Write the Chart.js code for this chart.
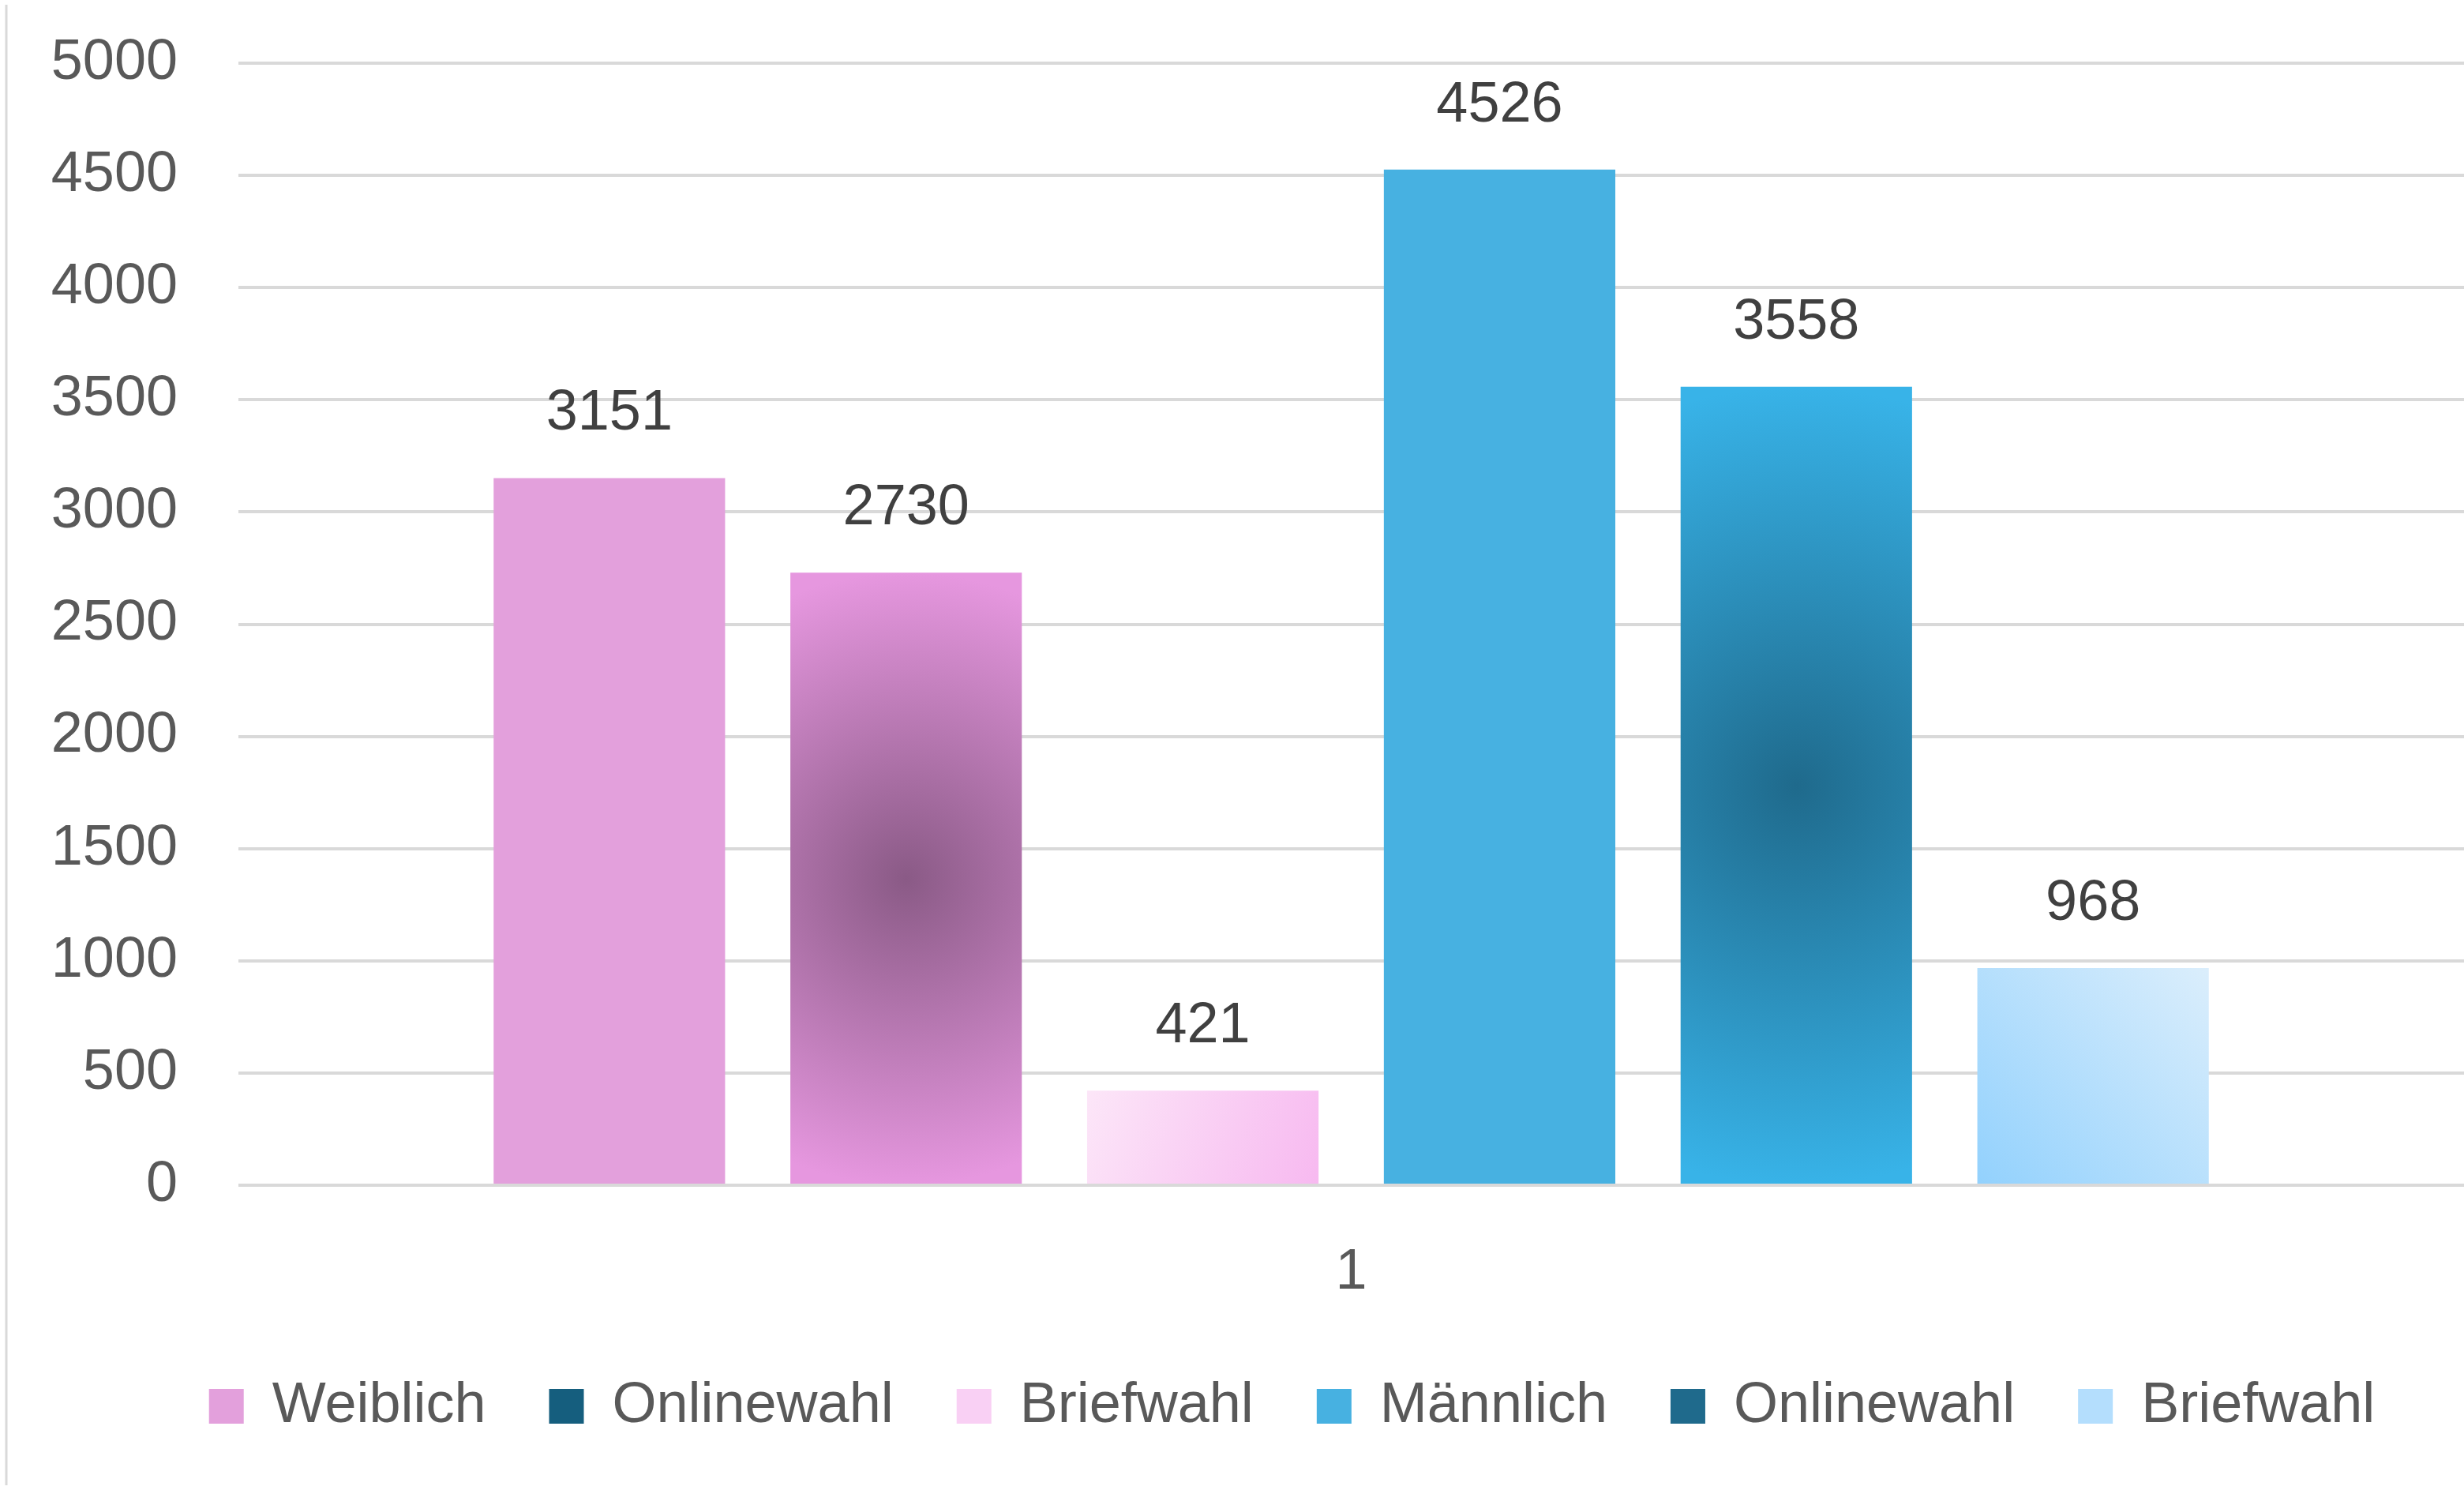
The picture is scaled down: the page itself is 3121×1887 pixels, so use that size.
<!DOCTYPE html>
<html>
<head>
<meta charset="utf-8">
<script src="https://cdn.jsdelivr.net/npm/chart.js@4/dist/chart.umd.min.js"></script>
<style>
  html, body { margin: 0; padding: 0; background: #ffffff; }
  canvas { display: block; }
</style>
</head>
<body>
<canvas id="chart" width="3121" height="1887"></canvas>
<script>
// data
const categories = ["1"];
const seriesNames = ["Weiblich", "Onlinewahl", "Briefwahl", "Männlich", "Onlinewahl", "Briefwahl"];
const seriesValues = [3151, 2730, 421, 4526, 3558, 968];
const yMin = 0;
const yMax = 5000;
const yStep = 500;

const catPct = 0.8;
const barPct = 0.78;
const textColor = "#595959";
const labelColor = "#404040";
const gridColor = "#d9d9d9";
const font = "'Liberation Sans', Arial, sans-serif";

// where a bar sits, worked out from the scales the same way the bar controller does
function barRect(c) {
  const chart = c.chart;
  const xs = chart.scales.x, ys = chart.scales.y;
  const n = chart.data.datasets.length;
  const slot = xs.width / chart.data.labels.length * catPct / n;
  const cx = xs.getPixelForValue(c.dataIndex) + (c.datasetIndex - (n - 1) / 2) * slot;
  const w = slot * barPct;
  return { x0: cx - w / 2, x1: cx + w / 2, y0: ys.getPixelForValue(c.raw), y1: ys.getPixelForValue(0) };
}

function radial(inner, outer) {
  return c => {
    if (c.type !== "data" || !c.chart.chartArea) return outer;
    const r = barRect(c);
    const cx = (r.x0 + r.x1) / 2, cy = (r.y0 + r.y1) / 2;
    const g = c.chart.ctx.createRadialGradient(cx, cy, 0, cx, cy, (r.y1 - r.y0) / 2);
    g.addColorStop(0, inner);
    g.addColorStop(1, outer);
    return g;
  };
}

function linear(dir, from, to) {
  return c => {
    if (c.type !== "data" || !c.chart.chartArea) return to;
    const r = barRect(c);
    const g = dir === "down"
      ? c.chart.ctx.createLinearGradient(r.x0, r.y0, r.x1, r.y1)
      : c.chart.ctx.createLinearGradient(r.x0, r.y1, r.x1, r.y0);
    g.addColorStop(0, from);
    g.addColorStop(1, to);
    return g;
  };
}

const barFills = [
  "#e3a0dc",
  radial("#8a5a86", "#e697df"),
  linear("down", "#fce6f8", "#f7b9f0"),
  "#47b1e1",
  radial("#1f6a8c", "#38b3e8"),
  linear("up", "#92d1fd", "#dbeefc")
];
const legendFills = ["#e3a0dc", "#155e7e", "#f9d0f4", "#47b1e1", "#1f6a8c", "#b4defd"];

const datasets = seriesNames.map((name, i) => ({
  label: name,
  data: [seriesValues[i]],
  backgroundColor: barFills[i],
  borderWidth: 0,
  categoryPercentage: catPct,
  barPercentage: barPct
}));

// value above each bar
const valueLabels = {
  id: "valueLabels",
  afterDatasetsDraw(chart) {
    const ctx = chart.ctx;
    ctx.save();
    ctx.font = "72px " + font;
    ctx.fillStyle = labelColor;
    ctx.textAlign = "center";
    ctx.textBaseline = "alphabetic";
    chart.data.datasets.forEach((ds, i) => {
      chart.getDatasetMeta(i).data.forEach((bar, j) => {
        ctx.fillText(String(ds.data[j]), bar.x, bar.y - 61);
      });
    });
    ctx.restore();
  }
};

// thin frame line on the left edge, legend row centred under the plot like the original
const frameLine = {
  id: "frameLine",
  afterLayout(chart) {
    chart.legend.left = 152;
  },
  beforeDraw(chart) {
    const ctx = chart.ctx;
    ctx.save();
    ctx.strokeStyle = gridColor;
    ctx.lineWidth = 3;
    ctx.beginPath();
    ctx.moveTo(8, 6);
    ctx.lineTo(8, chart.height - 6);
    ctx.stroke();
    ctx.restore();
  }
};

let ctx = document.getElementById("chart").getContext("2d");

new Chart(ctx, {
  type: "bar",
  data: { labels: categories, datasets: datasets },
  plugins: [valueLabels, frameLine],
  options: {
    responsive: false,
    animation: false,
    devicePixelRatio: 1,
    layout: { padding: { left: 0, top: 80, right: 0, bottom: 60 } },
    plugins: {
      tooltip: { enabled: false },
      legend: {
        position: "bottom",
        labels: {
          font: { size: 72, family: font },
          color: textColor,
          boxWidth: 44,
          boxHeight: 44,
          padding: 80,
          generateLabels(chart) {
            const items = Chart.defaults.plugins.legend.labels.generateLabels(chart);
            items.forEach((it, i) => {
              it.fillStyle = legendFills[i];
              it.strokeStyle = legendFills[i];
              it.lineWidth = 0;
            });
            return items;
          }
        }
      }
    },
    scales: {
      x: {
        grid: { display: false },
        border: { display: false },
        ticks: { font: { size: 72, family: font }, color: textColor, padding: 60 },
        afterFit(scale) { scale.height = 164; }
      },
      y: {
        min: yMin,
        max: yMax,
        grid: { color: gridColor, lineWidth: 4, drawTicks: false },
        border: { display: false },
        ticks: {
          stepSize: yStep,
          font: { size: 72, family: font },
          color: textColor,
          padding: 77,
          callback: v => String(v)
        },
        afterFit(scale) {
          scale.width = 302;
          scale.paddingTop = 40;
          scale.paddingBottom = 40;
        }
      }
    }
  }
});
</script>
</body>
</html>
